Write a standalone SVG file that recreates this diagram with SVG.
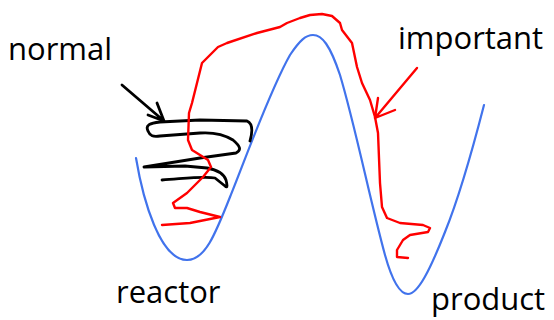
<svg xmlns="http://www.w3.org/2000/svg" width="554" height="320" viewBox="0 0 554 320">
<style>
.lbl{font-family:"Open Sans","Liberation Sans",sans-serif;font-size:31px;fill:#000}
.blue{fill:none;stroke:#4173EC;stroke-width:2.2;stroke-linecap:round}
.red{fill:none;stroke:#FF0000;stroke-width:2.4;stroke-linecap:round;stroke-linejoin:round}
.blk{fill:none;stroke:#000;stroke-width:2.8;stroke-linecap:round;stroke-linejoin:round}
</style>
<rect width="554" height="320" fill="#fff"/>
<g id="energy-curve">
<path class="blue" d="M136,158 C143,200 160,260 187,260 C205,260 215,235 230,197 C245,160 270,90 290,55 C300,40 306,35 313,35 C322,35 330,45 340,75 C355,125 370,200 385,255 C392,280 400,294 408,294 C418,294 430,270 445,232 C460,195 475,140 484,105"/>
</g>
<g id="normal-path">
<path class="blk" d="M250,141 C252,134 254,124 247,121 L200,120 L160,122 C150,123 145,125 148,131 C150,136 153,137 160,136 L200,133 C215,132 225,135 233,140 C240,146 242,150 236,153 L200,158 L144,167 L185,166 L207,168 C218,170 224,174 226,180 C227,184 228,189 225,186 L215,178 C205,176 190,178 162,180"/>
</g>
<g id="important-path">
<path class="red" d="M162,225 L190,223 L220,217 L200,212 L187,208 L175,208 L173,203 L187,193 L203,177 L211,167 L208,160 L192,150 L188,140 L189,113 L192,103 L197,83 L202,63 L218,47 L227,43 L257,33 L280,27 L287,23 L300,18 L310,15 L322,14 L332,16 L340,23 L342,30 L352,43 L357,67 L362,83 L370,100 L375,117 L378,133 L380,183 L382,207 L387,218 L400,223 L423,225 L430,228 L428,232 L410,235 L403,240 L397,250 L397,257 L408,258"/>
</g>
<g id="connectors">
<path class="blk" d="M122,85 L164,121 M157,103 L164,121 L148,115"/>
<path class="red" d="M417,68 L375,118 M378,98 L375,118 L395,110"/>
</g>
<g id="labels">
<text class="lbl" x="8" y="60">normal</text>
<text class="lbl" x="398" y="49">important</text>
<text class="lbl" x="116" y="303">reactor</text>
<text class="lbl" x="431" y="310">product</text>
</g>
</svg>
